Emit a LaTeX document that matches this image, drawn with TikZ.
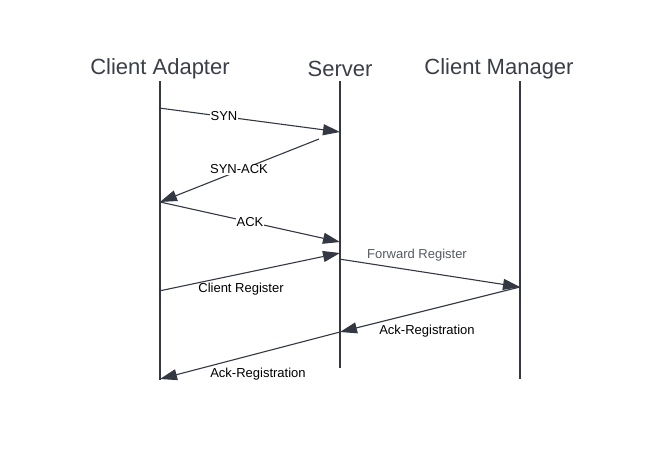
\documentclass[tikz,border=0pt]{standalone}
\usepackage{fontspec}
\setmainfont{Liberation Sans}
\usetikzlibrary{arrows.meta}
\definecolor{ink}{HTML}{333842}
\definecolor{txt}{HTML}{3A3F47}
\definecolor{graytxt}{HTML}{555A61}
\begin{document}
\begin{tikzpicture}[x=1pt,y=-1pt,
  lifeline/.style={draw=ink,line width=2pt},
  title/.style={font=\fontsize{22}{26}\selectfont,text=txt,inner sep=0pt},
  msg/.style={draw=ink,line width=1.1pt,-{Triangle[length=17pt,width=11pt]}},
  lbl/.style={font=\fontsize{13}{15}\selectfont,text=black,inner sep=1pt},
  onlbl/.style={lbl,fill=white}]
\useasboundingbox (0,0) rectangle (659,470);
% titles
\node[title] (tA) at (160,68.5) {Client Adapter};
\node[title] (tS) at (340,68.5) {Server};
\node[title] (tM) at (499,68.5) {Client Manager};
% lifelines
\coordinate (aTop) at (160,81); \coordinate (aBot) at (160,380);
\coordinate (sTop) at (340,81); \coordinate (sBot) at (340,368);
\coordinate (mTop) at (520,81); \coordinate (mBot) at (520,379);
\draw[lifeline] (aTop) -- (aBot);
\draw[lifeline] (sTop) -- (sBot);
\draw[lifeline] (mTop) -- (mBot);
% message end points
\coordinate (a1) at (159,108); \coordinate (s1) at (340,132);
\coordinate (s2) at (319,139); \coordinate (a2) at (160,202);
\coordinate (s3) at (340,242);
\coordinate (a4) at (159,291); \coordinate (s4) at (340,253);
\coordinate (s5) at (339,259); \coordinate (m5) at (520,287);
\coordinate (s6) at (340,332);
\coordinate (a7) at (160,379);
% messages
\draw[msg] (a1) -- (s1);
\draw[msg] (s2) -- (a2);
\draw[msg] (a2) -- (s3);
\draw[msg] (a4) -- (s4);
\draw[msg] (s5) -- (m5);
\draw[msg] (m5) -- (s6);
\draw[msg] (s6) -- (a7);
% labels
\node[onlbl] (l1) at (224,116) {SYN};
\node[onlbl] (l2) at (239,169.5) {SYN-ACK};
\node[onlbl] (l3) at (250,222) {ACK};
\node[lbl] (l4) at (241,289.5) {Client Register};
\node[lbl,text=graytxt] (l5) at (417,255.5) {Forward Register};
\node[lbl] (l6) at (427,331.5) {Ack-Registration};
\node[lbl] (l7) at (258,374.5) {Ack-Registration};
\end{tikzpicture}
\end{document}
